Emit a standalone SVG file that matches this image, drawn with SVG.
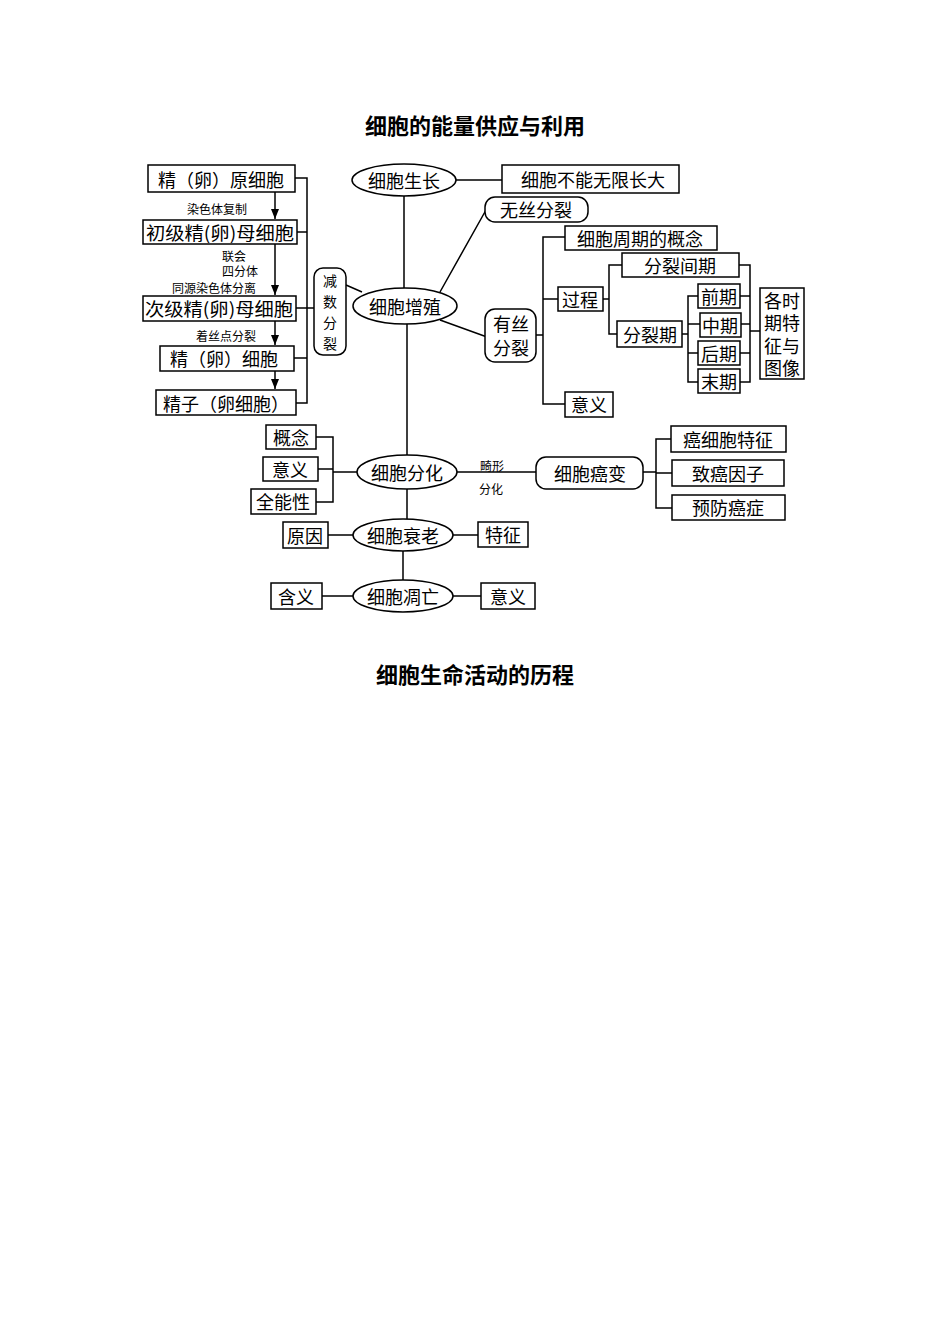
<svg xmlns="http://www.w3.org/2000/svg" width="950" height="1344" viewBox="0 0 950 1344">
<style>
.b{fill:#fff;stroke:#000;stroke-width:1.5}
.l{fill:none;stroke:#000;stroke-width:1.5}
text{font-family:"Noto Sans CJK SC",sans-serif;fill:#000;text-anchor:middle;dominant-baseline:central}
.t{font-size:18px}
.v{font-size:14px}
.s{font-size:12px}
.h{font-size:22px;font-weight:bold}
</style>
<defs><marker id="a" viewBox="0 0 10 10" refX="10" refY="5" markerWidth="7" markerHeight="7" orient="auto"><path d="M0,1L10,5L0,9z"/></marker></defs>
<rect width="950" height="1344" fill="#fff"/>
<text class="h" x="475" y="124">细胞的能量供应与利用</text>
<text class="h" x="475" y="673">细胞生命活动的历程</text>
<g id="connectors">
<line class="l" x1="275" y1="192" x2="275" y2="219" marker-end="url(#a)"/>
<line class="l" x1="275" y1="244" x2="275" y2="295" marker-end="url(#a)"/>
<line class="l" x1="275" y1="321" x2="275" y2="345" marker-end="url(#a)"/>
<line class="l" x1="275" y1="371" x2="275" y2="389" marker-end="url(#a)"/>
<path class="l" d="M295,178H307V403H296M297,232H307M296,308H314M294,358H307M346,285L362,292"/>
<path class="l" d="M456,180H502M404,196V288M440,292L486,210M440,320L487,337"/>
<path class="l" d="M536,335H543M565,237H543V404H565M543,299H558M603,299H609M622,265H609V334H617M682,334H688M698,296H688V382H698M740,324H688M740,353H688M739,265H750V382H740M740,296H750M741,324H750M740,353H750M750,331H760"/>
<path class="l" d="M407,324V455M316,437H333V502H316M318,469H333M333,472H357M457,472H536M643,472H656M671,439H656V508H672M656,473H672"/>
<path class="l" d="M407,489V519M328,535H353M453,535H478M403,551V580M322,596H353M453,596H481"/>
</g>
<g id="labels">
<text class="s" x="217" y="208">染色体复制</text>
<text class="s" x="234" y="255">联会</text>
<text class="s" x="240" y="270">四分体</text>
<text class="s" x="214" y="287">同源染色体分离</text>
<text class="s" x="226" y="335">着丝点分裂</text>
<text class="s" x="492" y="465">畸形</text>
<text class="s" x="491" y="488">分化</text>
</g>
<g id="n1"><rect class="b" x="148" y="165" width="147" height="27"/><text class="t" x="221" y="179">精（卵）原细胞</text></g>
<g id="n2"><rect class="b" x="143" y="220" width="154" height="24"/><text class="t" x="220" y="232" textLength="148" lengthAdjust="spacingAndGlyphs">初级精(卵)母细胞</text></g>
<g id="n3"><rect class="b" x="143" y="296" width="153" height="25"/><text class="t" x="219" y="308" textLength="148" lengthAdjust="spacingAndGlyphs">次级精(卵)母细胞</text></g>
<g id="n4"><rect class="b" x="160" y="346" width="134" height="25"/><text class="t" x="224" y="358">精（卵）细胞</text></g>
<g id="n5"><rect class="b" x="156" y="390" width="140" height="25"/><text class="t" x="226" y="403">精子（卵细胞）</text></g>
<g id="n6"><rect class="b" x="314" y="268" width="32" height="87" rx="9"/><text class="v" x="330" y="280">减</text><text class="v" x="330" y="301">数</text><text class="v" x="330" y="322">分</text><text class="v" x="330" y="343">裂</text></g>
<g id="n7"><ellipse class="b" cx="404" cy="180" rx="52" ry="16"/><text class="t" x="404" y="180">细胞生长</text></g>
<g id="n8"><rect class="b" x="502" y="165" width="177" height="28"/><text class="t" x="593" y="179">细胞不能无限长大</text></g>
<g id="n9"><ellipse class="b" cx="405" cy="306" rx="52" ry="18"/><text class="t" x="405" y="306">细胞增殖</text></g>
<g id="n10"><rect class="b" x="485" y="197" width="103" height="25" rx="10"/><text class="t" x="536" y="209">无丝分裂</text></g>
<g id="n11"><rect class="b" x="485" y="309" width="51" height="53" rx="10"/><text class="t" x="511" y="323">有丝</text><text class="t" x="511" y="347">分裂</text></g>
<g id="n12"><rect class="b" x="565" y="226" width="152" height="24"/><text class="t" x="640" y="238">细胞周期的概念</text></g>
<g id="n13"><rect class="b" x="558" y="287" width="45" height="24"/><text class="t" x="580" y="299">过程</text></g>
<g id="n14"><rect class="b" x="565" y="392" width="48" height="25"/><text class="t" x="589" y="404">意义</text></g>
<g id="n15"><rect class="b" x="622" y="253" width="117" height="24"/><text class="t" x="680" y="265">分裂间期</text></g>
<g id="n16"><rect class="b" x="617" y="321" width="65" height="26"/><text class="t" x="650" y="334">分裂期</text></g>
<g id="n17"><rect class="b" x="698" y="284" width="42" height="24"/><text class="t" x="719" y="296">前期</text></g>
<g id="n18"><rect class="b" x="700" y="313" width="41" height="24"/><text class="t" x="720" y="325">中期</text></g>
<g id="n19"><rect class="b" x="698" y="341" width="42" height="24"/><text class="t" x="719" y="353">后期</text></g>
<g id="n20"><rect class="b" x="698" y="369" width="42" height="24"/><text class="t" x="719" y="381">末期</text></g>
<g id="n21"><rect class="b" x="760" y="288" width="44" height="91"/><text class="t" x="782" y="300">各时</text><text class="t" x="782" y="322">期特</text><text class="t" x="782" y="345">征与</text><text class="t" x="782" y="367">图像</text></g>
<g id="n22"><ellipse class="b" cx="407" cy="472" rx="50" ry="17"/><text class="t" x="407" y="472">细胞分化</text></g>
<g id="n23"><rect class="b" x="266" y="425" width="50" height="24"/><text class="t" x="291" y="437">概念</text></g>
<g id="n24"><rect class="b" x="263" y="457" width="55" height="24"/><text class="t" x="290" y="469">意义</text></g>
<g id="n25"><rect class="b" x="251" y="489" width="65" height="25"/><text class="t" x="283" y="501">全能性</text></g>
<g id="n26"><rect class="b" x="536" y="457" width="107" height="32" rx="10"/><text class="t" x="590" y="473">细胞癌变</text></g>
<g id="n27"><rect class="b" x="671" y="426" width="115" height="26"/><text class="t" x="728" y="439">癌细胞特征</text></g>
<g id="n28"><rect class="b" x="672" y="460" width="112" height="26"/><text class="t" x="728" y="473">致癌因子</text></g>
<g id="n29"><rect class="b" x="672" y="495" width="113" height="25"/><text class="t" x="728" y="507">预防癌症</text></g>
<g id="n30"><ellipse class="b" cx="403" cy="535" rx="50" ry="16"/><text class="t" x="403" y="535">细胞衰老</text></g>
<g id="n31"><rect class="b" x="283" y="522" width="45" height="26"/><text class="t" x="305" y="535">原因</text></g>
<g id="n32"><rect class="b" x="478" y="522" width="50" height="25"/><text class="t" x="503" y="534">特征</text></g>
<g id="n33"><ellipse class="b" cx="403" cy="596" rx="50" ry="16"/><text class="t" x="403" y="596">细胞凋亡</text></g>
<g id="n34"><rect class="b" x="271" y="583" width="51" height="26"/><text class="t" x="296" y="596">含义</text></g>
<g id="n35"><rect class="b" x="481" y="583" width="54" height="26"/><text class="t" x="508" y="596">意义</text></g>
</svg>
